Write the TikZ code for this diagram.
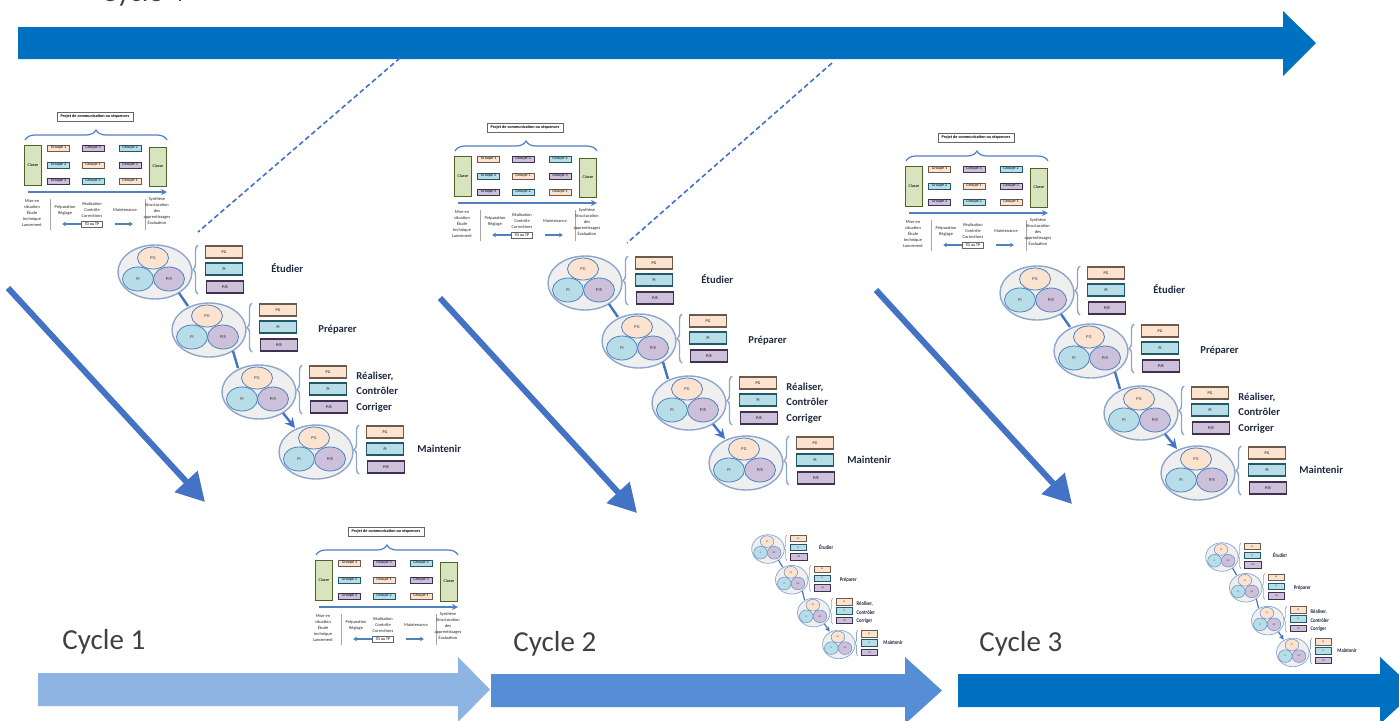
\documentclass[tikz,border=0pt]{standalone}
\usepackage{fontspec}
\setmainfont{Carlito}
\usetikzlibrary{arrows.meta,decorations.pathreplacing,shapes.geometric}
\definecolor{topblue}{HTML}{0070C0}
\definecolor{midblue}{HTML}{558ED5}
\definecolor{lightblue}{HTML}{8EB4E3}
\definecolor{diagblue}{HTML}{4472C4}
\definecolor{accblue}{HTML}{4F81BD}
\definecolor{peach}{HTML}{FBE3D0}
\definecolor{peachd}{HTML}{6E5A4A}
\definecolor{cyanf}{HTML}{B7DEE8}
\definecolor{cyand}{HTML}{215967}
\definecolor{lavf}{HTML}{CCC0DA}
\definecolor{lavd}{HTML}{403151}
\definecolor{greenf}{HTML}{D7E4BD}
\definecolor{greend}{HTML}{4F6228}
\definecolor{ellf}{HTML}{EFEFEF}
\definecolor{elld}{HTML}{8CA6CC}
\definecolor{labelc}{HTML}{1F2940}
\definecolor{cyclec}{HTML}{404040}
\newcommand\clw{1}
\newcommand\camp{2.5pt}
\newcommand\tipl{5pt}
\tikzset{
  outerell/.style={ellipse, draw=elld, fill=ellf, line width=0.7pt*\clw, minimum width=37pt, minimum height=27pt, inner sep=0pt},
  incirc/.style={ellipse, draw=accblue, line width=0.4pt*\clw, inner sep=0pt, font=\fontsize{2.2}{2.4}\selectfont, text=black!80},
  cpg/.style={incirc, fill=peach, minimum width=15.5pt, minimum height=11pt},
  cpi/.style={incirc, fill=cyanf, minimum width=15.5pt, minimum height=12pt},
  cpr/.style={incirc, fill=lavf, minimum width=15.5pt, minimum height=12pt},
  cbox/.style={rectangle, line width=0.7pt*\clw, minimum width=18.5pt, minimum height=6pt, inner sep=0pt, font=\fontsize{2}{2.2}\selectfont},
  bpg/.style={cbox, fill=peach, draw=peachd},
  bpi/.style={cbox, fill=cyanf, draw=cyand},
  bpr/.style={cbox, fill=lavf, draw=lavd},
  cbrace/.style={draw=elld, line width=0.7pt*\clw, decorate, decoration={brace, amplitude=\camp}},
  clabel/.style={anchor=west, inner sep=0pt, align=left, text=labelc, font=\fontsize{5.3}{7.7}\selectfont\bfseries},
  conn/.style={draw=diagblue, line width=1.2pt*\clw},
  connarrow/.style={conn, -{Stealth[length=\tipl, width=\tipl]}},
  pdtitle/.style={draw=black!60, fill=white, line width=0.3pt, minimum width=38pt, minimum height=4.5pt, inner sep=0pt, font=\fontsize{2.1}{2.4}\selectfont\bfseries},
  pdbrace/.style={draw=accblue, line width=0.6pt, decorate, decoration={brace, amplitude=5pt}},
  classe/.style={draw=greend, fill=greenf, line width=0.4pt, minimum width=8.5pt, minimum height=20pt, inner sep=0pt, font=\fontsize{2.1}{2.2}\selectfont},
  grp/.style={line width=0.4pt, minimum width=11pt, minimum height=3pt, inner sep=0pt, font=\fontsize{2}{2.1}\selectfont},
  g1/.style={grp, fill=peach, draw=peachd},
  g2/.style={grp, fill=cyanf, draw=cyand},
  g3/.style={grp, fill=lavf, draw=lavd},
  pdarrow/.style={draw=accblue, line width=0.7pt, -{Stealth[length=3pt, width=3pt]}},
  pdsep/.style={draw=black!35, line width=0.3pt},
  pdtext/.style={align=center, inner sep=0pt, font=\fontsize{2.2}{3}\selectfont, text=black!85},
  tdbox/.style={draw=black!60, fill=white, line width=0.3pt, minimum width=10.5pt, minimum height=3pt, inner sep=0pt, font=\fontsize{2}{2.1}\selectfont},
  pdthick/.style={draw=accblue, line width=1pt, -{Latex[length=1.8pt, width=2.5pt]}},
  diagarrow/.style={draw=diagblue, line width=3pt, -{Triangle[length=14pt, width=15pt]}},
  dashline/.style={draw=diagblue, line width=0.8pt, dash pattern=on 2.5pt off 1.5pt},
  cyclelabel/.style={anchor=base west, inner sep=0pt, text=cyclec, font=\fontsize{14.5}{17}\selectfont}
}
% one step of a cluster
\newcommand\mystep[5]{%
  \begin{scope}[shift={(#2,#3)}]
    \node[outerell] (#1) at (0,0) {};
    \node[cpg] (#1pg) at (-2,-14) {PG};
    \node[cpi] (#1pi) at (-17,7) {Pi};
    \node[cpr] (#1pr) at (14,7) {P/R};
    \coordinate (#1bb) at (43,22);
    \coordinate (#1bt) at (43,-27);
    \draw[cbrace] (#1bb) -- (#1bt);
    \node[bpg] (#1bpg) at (69,-20) {PG};
    \node[bpi] (#1bpi) at (69,-3) {Pi};
    \node[bpr] (#1bpr) at (70,15) {P/R};
    \node[clabel] (#1lab) at #5 {#4};
    \coordinate (#1out) at (24,21);
    \coordinate (#1in) at (-21,-24);
  \end{scope}}
% a whole cluster
\newcommand\mycluster[3]{%
  \begin{scope}[shift={#2}, #3, transform shape]
    \mystep{#1a}{0}{0}{Étudier}{(116,-4)}
    \mystep{#1b}{54}{58}{Préparer}{(109,0)}
    \mystep{#1c}{104}{120}{Réaliser,\\Contrôler\\Corriger}{(97,0)}
    \mystep{#1d}{161}{180}{Maintenir}{(101,-3)}
    \draw[conn] (#1aout) -- (#1bin);
    \draw[conn] (#1bout) -- (#1cin);
    \draw[connarrow] (#1cout) -- (#1din);
  \end{scope}}
% project diagram
\newcommand\myproj[2]{%
  \begin{scope}[shift={#2}]
    \node[pdtitle] (#1t) at (95,116.5) {Projet de communication ou séquences};
    \coordinate (#1bl) at (25,140);
    \coordinate (#1br) at (167,140);
    \draw[pdbrace] (#1bl) -- (#1br);
    \node[classe] (#1cl) at (33,165) {Classe};
    \node[classe, minimum height=19.5pt] (#1cr) at (158,166.5) {Classe};
    \node[g1] (#1g11) at (58.5,148) {Groupe 1};
    \node[g3] (#1g12) at (93,148) {Groupe 3};
    \node[g2] (#1g13) at (130,148) {Groupe 2};
    \node[g2] (#1g21) at (58.5,165) {Groupe 2};
    \node[g1] (#1g22) at (93,165) {Groupe 1};
    \node[g3] (#1g23) at (130,165) {Groupe 3};
    \node[g3] (#1g31) at (58.5,181) {Groupe 3};
    \node[g2] (#1g32) at (93,181) {Groupe 2};
    \node[g1] (#1g33) at (130,181) {Groupe 1};
    \coordinate (#1as) at (28,192);
    \coordinate (#1ae) at (167,192);
    \draw[pdarrow] (#1as) -- (#1ae);
    \coordinate (#1v1a) at (50,199);
    \coordinate (#1v1b) at (50,230);
    \coordinate (#1v2a) at (145,199);
    \coordinate (#1v2b) at (145,230);
    \draw[pdsep] (#1v1a) -- (#1v1b);
    \draw[pdsep] (#1v2a) -- (#1v2b);
    \node[pdtext] (#1x1) at (32,212.5) {Mise en\\situation\\Étude\\technique\\Lancement};
    \node[pdtext] (#1x2) at (65,210) {Préparation\\Réglage};
    \node[pdtext] (#1x3) at (92,210) {Réalisation\\Contrôle\\Corrections};
    \node[pdtext] (#1x4) at (125,210) {Maintenance};
    \node[pdtext] (#1x5) at (157,211) {Synthèse\\Structuration\\des\\apprentissages\\Évaluation};
    \node[tdbox] (#1td) at (92,224) {TD ou TP};
    \coordinate (#1la) at (62,224);
    \coordinate (#1rs) at (115,224);
    \coordinate (#1ra) at (133,224);
    \draw[pdthick] (#1td.west) -- (#1la);
    \draw[pdthick] (#1rs) -- (#1ra);
  \end{scope}}

\begin{document}
\begin{tikzpicture}[x=0.5pt, y=-0.5pt]
  \useasboundingbox (0,0) rectangle (1399,720);
  \clip (0,0) rectangle (1399,720);
  \fill[white] (0,0) rectangle (1399,720);

  % top arrow and its label
  \node[cyclelabel] (ctop) at (101,1) {Cycle 4};
  \fill[topblue] (18,27) -- (1283,27) -- (1283,11) -- (1316,43) -- (1283,76) -- (1283,59) -- (18,59) -- cycle;

  % dashed zoom lines
  \coordinate (d1a) at (400,58);
  \coordinate (d1b) at (198,232);
  \coordinate (d2a) at (832,63);
  \coordinate (d2b) at (627,243);
  \draw[dashline] (d1a) -- (d1b);
  \draw[dashline] (d2a) -- (d2b);

  % project diagrams
  \myproj{pa}{(0,0)}
  \myproj{pb}{(430,11)}
  \myproj{pc}{(881,21)}
  \myproj{pd}{(291,415)}

  % clusters
  \mycluster{ca}{(155,272)}{xscale=1}
  \mycluster{cb}{(585,283)}{xscale=1}
  \mycluster{cc}{(1037,293)}{xscale=1}
  \begin{scope}
    \renewcommand\clw{0.5}\renewcommand\camp{1.3pt}\renewcommand\tipl{2.5pt}
    \mycluster{cd}{(768,549)}{xscale=0.44, yscale=0.53}
    \mycluster{ce}{(1222,557)}{xscale=0.44, yscale=0.53}
  \end{scope}

  % diagonal arrows
  \coordinate (a1s) at (8,288);   \coordinate (a1e) at (205,502);
  \coordinate (a2s) at (440,298); \coordinate (a2e) at (637,513);
  \coordinate (a3s) at (876,290); \coordinate (a3e) at (1072,504);
  \draw[diagarrow] (a1s) -- (a1e);
  \draw[diagarrow] (a2s) -- (a2e);
  \draw[diagarrow] (a3s) -- (a3e);

  % bottom arrows
  \fill[lightblue] (38,673) -- (458,673) -- (458,657) -- (490,689.5) -- (458,722) -- (458,706) -- (38,706) -- cycle;
  \fill[midblue] (491,674) -- (905,674) -- (905,657) -- (942,690.5) -- (905,724) -- (905,707) -- (491,707) -- cycle;
  \fill[topblue] (958,674) -- (1380,674) -- (1380,657) -- (1416,690.5) -- (1380,724) -- (1380,707) -- (958,707) -- cycle;
  \node[cyclelabel] (c1) at (62,649) {Cycle 1};
  \node[cyclelabel] (c2) at (513,651) {Cycle 2};
  \node[cyclelabel] (c3) at (979,651) {Cycle 3};
\end{tikzpicture}
\end{document}
